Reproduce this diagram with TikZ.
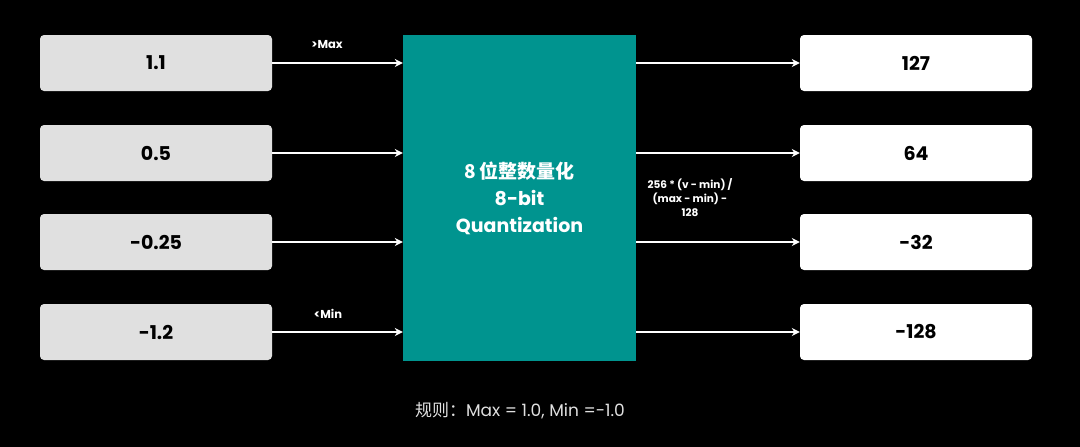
\documentclass[tikz,border=0pt]{standalone}
\usepackage{fontspec}
\setmainfont{Poppins}
\newfontfamily\cjk{Noto Sans CJK SC}
\usetikzlibrary{arrows.meta}
\begin{document}
\begin{tikzpicture}[x=1pt,y=-1pt,
  inbox/.style={draw=none,fill=black!12,rounded corners=4pt,minimum width=232pt,minimum height=56pt,font=\fontsize{19}{22}\selectfont\bfseries},
  outbox/.style={inbox,fill=white},
  arr/.style={draw=white,line width=1.3pt,-{Stealth[length=8pt,width=8pt]}},
  lbl/.style={text=white,font=\fontsize{11.5}{14}\selectfont\bfseries}]
\fill[black] (0,0) rectangle (1080,447);
\useasboundingbox (0,0) rectangle (1080,447);
\node[fill=teal!85!black!95,fill={rgb,255:red,0;green,148;blue,143},minimum width=233pt,minimum height=326pt,text=white,align=center,font=\fontsize{19}{27}\selectfont\bfseries] (q) at (519.5,198) {{\cjk\bfseries 8 位整数量化}\\8-bit\\Quantization};
\foreach \n/\y/\a/\b in {1/63/1.1/127,2/153/0.5/64,3/242/-0.25/-32,4/332/-1.2/-128}{
  \node[inbox] (i\n) at (156,\y) {\a};
  \node[outbox] (o\n) at (916,\y) {\b};
  \draw[arr] (i\n.east) -- (q.west |- i\n.east);
  \draw[arr] (q.east |- o\n.west) -- (o\n.west);
}
\node[lbl] (mx) at (327,45) {>Max};
\node[lbl] (mn) at (328,314) {<Min};
\node[lbl,align=center,font=\fontsize{10.5}{14}\selectfont\bfseries] (f) at (690,198) {256 * (v - min) /\\(max - min) -\\128};
\node[text=white!88!black,font=\fontsize{17}{20}\selectfont] (r) at (520,411) {{\cjk 规则：}Max = 1.0, Min =-1.0};
\end{tikzpicture}
\end{document}
